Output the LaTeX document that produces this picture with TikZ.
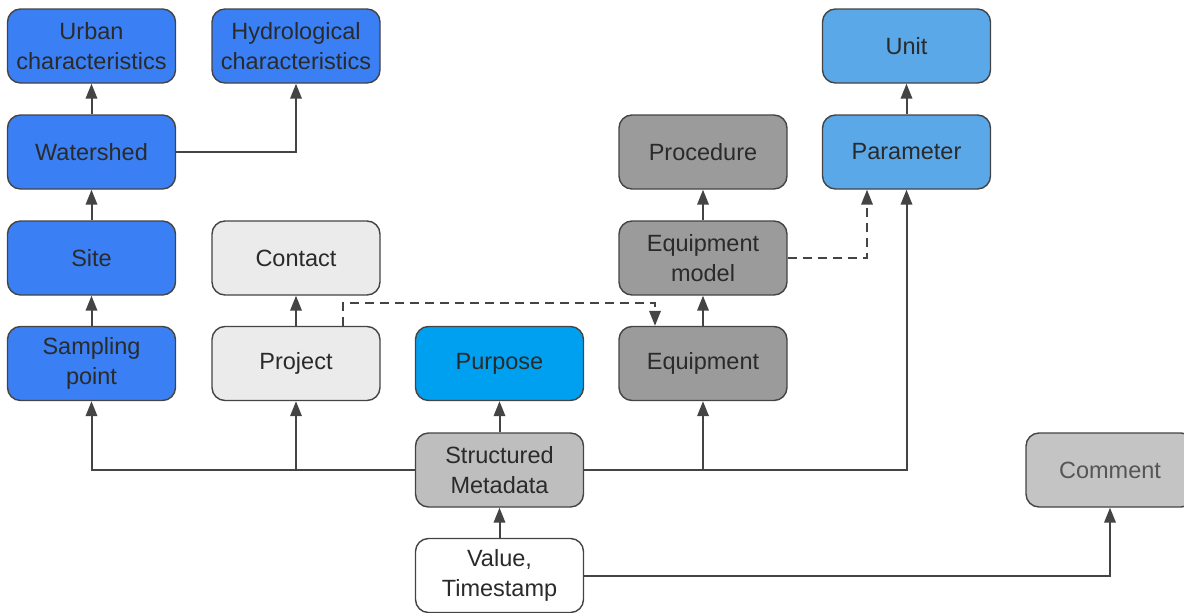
\documentclass[tikz,border=0pt]{standalone}
\usepackage{fontspec}
\setmainfont{Liberation Sans}
\usetikzlibrary{arrows.meta,calc}
\definecolor{bcol}{HTML}{444444}
\definecolor{tcol}{HTML}{2A2A2A}
\definecolor{cblue}{HTML}{3A80F4}
\definecolor{clblue}{HTML}{5AA8E8}
\definecolor{cpurp}{HTML}{00A0F0}
\definecolor{clight}{HTML}{EBEBEB}
\definecolor{cmid}{HTML}{9B9B9B}
\definecolor{csm}{HTML}{BEBEBE}
\definecolor{ccom}{HTML}{C4C4C4}
\tikzset{
  box/.style={rounded corners=13pt, draw=bcol, line width=1.4pt,
    minimum width=168pt, minimum height=74pt, inner sep=2pt, align=center,
    text=tcol, font=\fontsize{23.5}{30}\selectfont},
  arr/.style={draw=bcol, line width=2pt, -{Triangle[length=15pt,width=11.5pt]}},
  darr/.style={arr, dash pattern=on 9pt off 6pt},
}
\begin{document}
\begin{tikzpicture}[x=1pt,y=-1pt]
\useasboundingbox (0,0) rectangle (1184,613);
% row 1
\node[box, fill=cblue] (urb) at (91.5,46) {Urban\\characteristics};
\node[box, fill=cblue] (hyd) at (296,46) {Hydrological\\characteristics};
\node[box, fill=clblue] (unit) at (906.5,46) {Unit};
% row 2
\node[box, fill=cblue] (wat) at (91.5,152) {Watershed};
\node[box, fill=cmid] (proc) at (703,152) {Procedure};
\node[box, fill=clblue] (par) at (906.5,152) {Parameter};
% row 3
\node[box, fill=cblue] (site) at (91.5,258) {Site};
\node[box, fill=clight] (cont) at (296,258) {Contact};
\node[box, fill=cmid] (em) at (703,258) {Equipment\\model};
% row 4
\node[box, fill=cblue] (samp) at (91.5,363.5) {Sampling\\point};
\node[box, fill=clight] (proj) at (296,363.5) {Project};
\node[box, fill=cpurp] (purp) at (499.5,363.5) {Purpose};
\node[box, fill=cmid] (equ) at (703,363.5) {Equipment};
% row 5
\node[box, fill=csm] (sm) at (499.5,470) {Structured\\Metadata};
\node[box, fill=ccom, text=tcol!80] (com) at (1110,470) {Comment};
% row 6
\node[box, fill=white] (val) at (499.5,575.5) {Value,\\Timestamp};
% connectors
\draw[arr] (wat) -- (urb);
\draw[arr] (wat.east) -| (hyd);
\draw[arr] (site) -- (wat);
\draw[arr] (samp) -- (site);
\draw[arr] (proj) -- (cont);
\draw[darr] ([xshift=47pt]proj.north) -- ++(0,-23) -| ([xshift=-48pt]equ.north);
\draw[arr] (equ) -- (em);
\draw[arr] (em) -- (proc);
\draw[darr] (em.east) -| ([xshift=-39.5pt]par.south);
\draw[arr] (par) -- (unit);
\draw[arr] (sm.west) -| (samp);
\draw[arr] (sm.west) -| (proj);
\draw[arr] (sm) -- (purp);
\draw[arr] (sm.east) -| (equ);
\draw[arr] (sm.east) -| (par);
\draw[arr] (val) -- (sm);
\draw[arr] (val.east) -| (com);
\end{tikzpicture}
\end{document}
